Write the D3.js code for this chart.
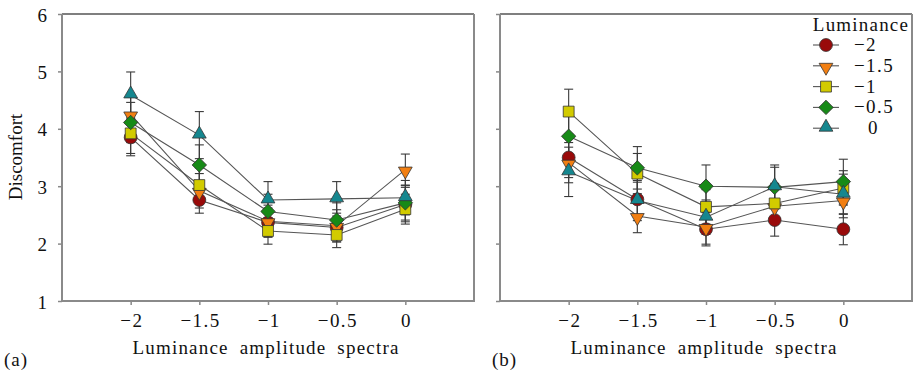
<!DOCTYPE html>
<html><head><meta charset="utf-8">
<script src="https://cdn.jsdelivr.net/npm/d3@7"></script>
</head><body style="margin:0;background:#fff"><svg id="c" width="918" height="380" style="display:block"></svg>
<script>
// ---- data ----
const xValues = [-2, -1.5, -1, -0.5, 0];
const xTickLabels = ["\u22122", "\u22121.5", "\u22121", "\u22120.5", "0"];
const yTicks = [1, 2, 3, 4, 5, 6];
const seriesNames = ["\u22122", "\u22121.5", "\u22121", "\u22120.5", "0"];
const seriesColors = ["#990a0a", "#f27f12", "#d2cb00", "#178a17", "#15878f"];
const seriesShapes = ["circle", "triDown", "square", "diamond", "triUp"];

// panel (a) means
const aLumM2  = [3.85, 2.76, 2.37, 2.28, 2.68];
const aLumM15 = [4.25, 2.92, 2.39, 2.31, 3.29];
const aLumM1  = [3.92, 3.02, 2.22, 2.15, 2.60];
const aLumM05 = [4.11, 3.37, 2.56, 2.41, 2.71];
const aLum0   = [4.59, 3.89, 2.76, 2.78, 2.80];
// panel (a) error
const aErrM2  = [0.32, 0.23, 0.25, 0.25, 0.30];
const aErrM15 = [0.30, 0.30, 0.28, 0.28, 0.27];
const aErrM1  = [0.35, 0.30, 0.23, 0.22, 0.26];
const aErrM05 = [0.35, 0.35, 0.30, 0.30, 0.30];
const aErr0   = [0.40, 0.41, 0.32, 0.30, 0.30];
// panel (b) means
const bLumM2  = [3.50, 2.77, 2.25, 2.41, 2.25];
const bLumM15 = [3.41, 2.48, 2.29, 2.65, 2.75];
const bLumM1  = [4.30, 3.22, 2.64, 2.70, 2.97];
const bLumM05 = [3.87, 3.32, 3.00, 2.98, 3.08];
const bLum0   = [3.25, 2.75, 2.46, 2.99, 2.86];
// panel (b) error
const bErrM2  = [0.35, 0.30, 0.29, 0.28, 0.27];
const bErrM15 = [0.35, 0.29, 0.30, 0.30, 0.30];
const bErrM1  = [0.39, 0.35, 0.30, 0.35, 0.30];
const bErrM05 = [0.35, 0.37, 0.37, 0.35, 0.39];
const bErr0   = [0.43, 0.35, 0.30, 0.38, 0.35];

const panels = [
  {label: "(a)", left: 62, means: [aLumM2, aLumM15, aLumM1, aLumM05, aLum0], errs: [aErrM2, aErrM15, aErrM1, aErrM05, aErr0], yLabels: true},
  {label: "(b)", left: 500, means: [bLumM2, bLumM15, bLumM1, bLumM05, bLum0], errs: [bErrM2, bErrM15, bErrM1, bErrM05, bErr0], yLabels: false}
];

const FONT = "Liberation Serif";
const svg = d3.select("#c");
const plotTop = 14, plotBottom = 301, pw = 412;
const y = d3.scaleLinear().domain([1, 6]).range([plotBottom, plotTop]);

function symPath(shape) {
  if (shape === "circle") return d3.symbol(d3.symbolCircle, 130)();
  if (shape === "square") return d3.symbol(d3.symbolSquare, 118)();
  if (shape === "diamond") return d3.symbol(d3.symbolSquare, 104)();
  return d3.symbol(d3.symbolTriangle, 82)();
}
function symTransform(shape, px, py) {
  let t = `translate(${px},${py})`;
  if (shape === "diamond") t += " rotate(45)";
  if (shape === "triDown") t += " rotate(180) translate(0,-1.5)";
  if (shape === "triUp") t += " translate(0,-1)";
  return t;
}
function styleText(sel, ls) {
  return sel.style("font-family", FONT).style("font-size", "19px").style("fill", "#111")
    .style("letter-spacing", (ls === undefined ? 1.2 : ls) + "px");
}
function sText(g, x, yy, str, anchor, ls) {
  return styleText(g.append("text").attr("x", x).attr("y", yy)
    .attr("text-anchor", anchor).text(str), ls);
}

panels.forEach(p => {
  const x = d3.scaleLinear().domain([-2.5, 0.5]).range([p.left, p.left + pw]);
  const g = svg.append("g");

  // x axis
  const xa = g.append("g").attr("transform", `translate(0,${plotBottom})`)
    .call(d3.axisBottom(x).tickValues(xValues).tickSize(4).tickFormat((d, i) => xTickLabels[i]));
  xa.select(".domain").remove();
  xa.selectAll("line").attr("stroke", "#888").attr("stroke-width", 1.5);
  styleText(xa.selectAll("text").attr("y", 26).attr("dy", 0).attr("dx", "0.7px"), 1.4);

  // y axis
  const ya = g.append("g").attr("transform", `translate(${p.left},0)`)
    .call(d3.axisLeft(y).tickValues(yTicks).tickSize(4).tickFormat(p.yLabels ? d3.format("d") : () => ""));
  ya.select(".domain").remove();
  ya.selectAll("line").attr("stroke", "#888").attr("stroke-width", 1.5);
  styleText(ya.selectAll("text").attr("x", -15).attr("dy", 0).attr("y", 7), 0);

  // frame
  g.append("line").attr("x1", p.left).attr("x2", p.left + pw).attr("y1", plotTop).attr("y2", plotTop).attr("stroke", "#555").attr("stroke-width", 1.3);
  g.append("path").attr("d", `M${p.left},${plotTop}V${plotBottom}H${p.left + pw}V${plotTop}`).attr("fill", "none").attr("stroke", "#8a8a8a").attr("stroke-width", 2);

  // connecting lines
  p.means.forEach((m, si) => {
    g.append("path").datum(m)
      .attr("d", d3.line().x((d, i) => x(xValues[i])).y(d => y(d)))
      .attr("fill", "none").attr("stroke", "#555").attr("stroke-width", 1.1);
  });
  // error bars
  p.means.forEach((m, si) => {
    m.forEach((v, i) => {
      const e = p.errs[si][i], cx = x(xValues[i]);
      const eg = g.append("g").attr("stroke", "#3a3a3a").attr("stroke-width", 1.1);
      eg.append("line").attr("x1", cx).attr("x2", cx).attr("y1", y(v - e)).attr("y2", y(v + e));
      eg.append("line").attr("x1", cx - 4.5).attr("x2", cx + 4.5).attr("y1", y(v - e)).attr("y2", y(v - e));
      eg.append("line").attr("x1", cx - 4.5).attr("x2", cx + 4.5).attr("y1", y(v + e)).attr("y2", y(v + e));
    });
  });
  // markers
  p.means.forEach((m, si) => {
    m.forEach((v, i) => {
      g.append("path").attr("d", symPath(seriesShapes[si]))
        .attr("transform", symTransform(seriesShapes[si], x(xValues[i]), y(v)))
        .attr("fill", seriesColors[si]).attr("stroke", "#333").attr("stroke-width", 0.8);
    });
  });

  // axis title
  sText(g, p.left + pw / 2 - 2, 354, "Luminance amplitude spectra", "middle", 1.2).style("word-spacing", "5px");
  // panel label
  sText(g, p.label === "(a)" ? 4 : 492, 366, p.label, "start", 1);
});

// y axis title
styleText(svg.append("text").attr("transform", "translate(21.5,157) rotate(-90)")
  .attr("text-anchor", "middle").text("Discomfort"), 0);

// legend
const lg = svg.append("g");
sText(lg, 861, 31, "Luminance", "middle", 1.2);
seriesNames.forEach((name, si) => {
  const ly = 45 + si * 20.8;
  lg.append("line").attr("x1", 813).attr("x2", 839).attr("y1", ly).attr("y2", ly).attr("stroke", "#555").attr("stroke-width", 1.1);
  lg.append("path").attr("d", symPath(seriesShapes[si]))
    .attr("transform", symTransform(seriesShapes[si], 826, ly))
    .attr("fill", seriesColors[si]).attr("stroke", "#333").attr("stroke-width", 0.8);
  sText(lg, name.startsWith("\u2212") ? 854 : 868, ly + 6, name, "start", 1.4);
});
</script></body></html>
